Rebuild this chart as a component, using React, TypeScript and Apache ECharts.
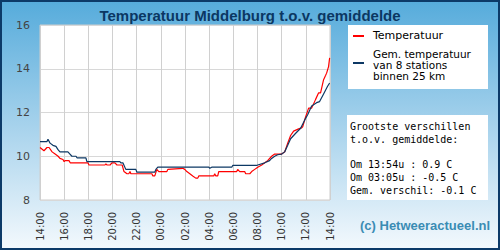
import React, { useEffect, useRef } from "react";
import * as echarts from "echarts";

// Hours after 14:00 (start of chart) and temperatures in °C
const redHours = [0, 0.33, 0.58, 0.75, 1.0, 1.25, 1.5, 1.65, 1.9, 2.0, 2.07, 2.4, 2.5, 3.97, 4.05, 5.38, 5.45, 5.55, 5.8, 5.95, 6.2, 6.37, 6.8, 6.95, 7.2, 7.35, 7.45, 7.52, 9.26, 9.34, 9.5, 9.67, 9.83, 10.5, 10.58, 11.82, 11.98, 12.15, 12.4, 12.64, 12.89, 13.06, 13.14, 14.38, 14.46, 14.55, 14.71, 14.79, 16.28, 16.36, 16.53, 16.94, 17.02, 17.36, 17.52, 17.77, 18.02, 18.35, 18.6, 18.84, 19.17, 19.42, 19.83, 20.0, 20.25, 20.5, 20.74, 20.99, 21.4, 21.65, 21.74, 21.98, 22.23, 22.48, 22.81, 23.06, 23.22, 23.47, 23.64, 23.72, 23.88, 23.97];
const redTemps = [10.4, 10.25, 10.4, 10.4, 10.2, 10.1, 10.0, 9.9, 9.85, 9.75, 9.8, 9.8, 9.7, 9.7, 9.6, 9.6, 9.65, 9.6, 9.6, 9.7, 9.7, 9.6, 9.6, 9.3, 9.2, 9.2, 9.3, 9.2, 9.2, 9.1, 9.1, 9.4, 9.3, 9.3, 9.4, 9.45, 9.4, 9.3, 9.2, 9.1, 9.0, 9.0, 9.1, 9.1, 9.2, 9.1, 9.1, 9.3, 9.3, 9.4, 9.3, 9.3, 9.2, 9.2, 9.3, 9.4, 9.5, 9.6, 9.7, 9.8, 10.0, 10.1, 10.1, 10.1, 10.2, 10.6, 10.95, 11.15, 11.25, 11.3, 11.35, 11.8, 12.2, 12.2, 12.6, 12.9, 12.9, 13.5, 13.7, 13.8, 14.1, 14.5];

const avgHours = [0, 0.58, 0.66, 0.83, 1.07, 1.32, 1.49, 1.65, 2.31, 2.48, 2.64, 2.98, 3.06, 3.8, 3.88, 6.61, 6.69, 6.86, 6.94, 7.1, 7.93, 8.02, 9.5, 9.59, 9.75, 10.0, 13.97, 14.05, 14.21, 15.87, 15.95, 17.93, 18.02, 18.6, 19.0, 19.17, 19.42, 19.67, 20.0, 20.25, 20.5, 20.74, 21.16, 21.57, 21.9, 22.15, 22.48, 22.89, 23.14, 23.47, 23.8, 23.97];
const avgTemps = [10.67, 10.67, 10.78, 10.6, 10.5, 10.45, 10.3, 10.2, 10.2, 10.1, 10.0, 10.0, 9.93, 9.93, 9.75, 9.75, 9.7, 9.7, 9.6, 9.4, 9.4, 9.27, 9.27, 9.4, 9.5, 9.5, 9.5, 9.45, 9.5, 9.5, 9.58, 9.58, 9.6, 9.7, 9.8, 9.9, 10.0, 10.07, 10.1, 10.2, 10.5, 10.8, 11.05, 11.28, 11.65, 11.9, 12.3, 12.45, 12.5, 12.85, 13.2, 13.35];

const startHour = 14;
const xTickStep = 2;
const yTicks = [8, 10, 12, 14, 16];

const titleText = "Temperatuur Middelburg t.o.v. gemiddelde";
const legendRed = "Temperatuur";
const legendAvgLines = ["Gem. temperatuur", "van 8 stations", "binnen 25 km"];
const infoLines = [
  "Grootste verschillen",
  "t.o.v. gemiddelde:",
  "",
  "Om 13:54u : 0.9 C",
  "Om 03:05u : -0.5 C",
  "Gem. verschil: -0.1 C",
];
const creditText = "(c) Hetweeractueel.nl";

const RED = "#ff0000";
const NAVY = "#0d3864";

export default function App() {
  const ref = useRef<HTMLDivElement>(null);
  useEffect(() => {
    const chart = echarts.init(ref.current!, null, { renderer: "svg" });
    const pad = (n: number) => (n < 10 ? "0" + n : "" + n);
    const legendFont = "10.5px 'DejaVu Sans'";
    chart.setOption({
      animation: false,
      backgroundColor: new echarts.graphic.LinearGradient(0, 0, 0, 1, [
        { offset: 0, color: "#55abdb" },
        { offset: 0.5, color: "#a6d2ec" },
        { offset: 1, color: "#f4f9fd" },
      ]),
      title: {
        text: titleText,
        left: "center",
        top: 3,
        textStyle: {
          fontFamily: "Liberation Sans",
          fontWeight: "bold",
          fontSize: 15,
          color: "#0b3763",
        },
      },
      grid: {
        left: 40,
        right: 170,
        top: 25,
        bottom: 50,
        show: true,
        backgroundColor: "#ffffff",
        borderColor: "#cccccc",
        borderWidth: 1,
      },
      xAxis: {
        type: "value",
        min: 0,
        max: 24,
        interval: xTickStep,
        axisLine: { show: false },
        axisTick: { show: false },
        splitLine: { show: true, lineStyle: { color: "#d0d0d0", width: 1 } },
        axisLabel: {
          rotate: 90,
          fontSize: 10,
          fontFamily: "DejaVu Sans",
          color: "#333333",
          margin: 12,
          showMaxLabel: true,
          showMinLabel: true,
          formatter: (v: number) => pad((startHour + v) % 24) + ":00",
        },
      },
      yAxis: {
        type: "value",
        min: yTicks[0],
        max: yTicks[yTicks.length - 1],
        interval: yTicks[1] - yTicks[0],
        axisLine: { show: false },
        axisTick: { show: false },
        splitLine: { show: true, lineStyle: { color: "#d8d8d8", width: 1 } },
        axisLabel: {
          fontSize: 11,
          fontFamily: "DejaVu Sans",
          color: "#444444",
          margin: 10,
        },
      },
      series: [
        {
          name: "Temperatuur",
          type: "line",
          symbol: "none",
          data: redHours.map((h, i) => [h, redTemps[i]]),
          lineStyle: { color: RED, width: 1.2 },
          itemStyle: { color: RED },
          z: 2,
        },
        {
          name: "Gem. temperatuur",
          type: "line",
          symbol: "none",
          data: avgHours.map((h, i) => [h, avgTemps[i]]),
          lineStyle: { color: NAVY, width: 1.2 },
          itemStyle: { color: NAVY },
          z: 3,
        },
      ],
      graphic: [
        {
          type: "rect",
          shape: { x: 1, y: 1, width: 498, height: 248 },
          style: { fill: "none", stroke: "#0c3a68", lineWidth: 2 },
          z: 100,
          silent: true,
        },
        {
          type: "rect",
          shape: { x: 348, y: 25, width: 140, height: 64 },
          style: { fill: "#ffffff" },
          silent: true,
        },
        {
          type: "line",
          shape: { x1: 353, y1: 36, x2: 364, y2: 36 },
          style: { stroke: RED, lineWidth: 2 },
          silent: true,
        },
        {
          type: "text",
          x: 373,
          y: 35,
          style: {
            text: legendRed,
            font: "11px 'DejaVu Sans'",
            fill: "#000000",
            verticalAlign: "middle",
          },
          silent: true,
        },
        {
          type: "line",
          shape: { x1: 353, y1: 63, x2: 364, y2: 63 },
          style: { stroke: NAVY, lineWidth: 2 },
          silent: true,
        },
        ...legendAvgLines.map((t, i) => ({
          type: "text",
          x: 373,
          y: 53.5 + i * 11,
          style: {
            text: t,
            font: legendFont,
            fill: "#000000",
            verticalAlign: "middle",
          },
          silent: true,
        })),
        {
          type: "rect",
          shape: { x: 347, y: 115, width: 141, height: 85 },
          style: { fill: "#ffffff" },
          silent: true,
        },
        {
          type: "text",
          x: 350,
          y: 120,
          style: {
            text: infoLines.join("\n"),
            font: "10px 'DejaVu Sans Mono'",
            lineHeight: 12.8,
            fill: "#000000",
            verticalAlign: "top",
          },
          silent: true,
        },
        {
          type: "text",
          x: 360,
          y: 225,
          style: {
            text: creditText,
            font: "bold 13px 'Liberation Sans'",
            fill: "#3a8cb4",
            verticalAlign: "middle",
          },
          silent: true,
        },
      ],
    });
    return () => chart.dispose();
  }, []);
  return (
    <div
      ref={ref}
      style={{ position: "fixed", left: 0, top: 0, width: 500, height: 250 }}
    />
  );
}
